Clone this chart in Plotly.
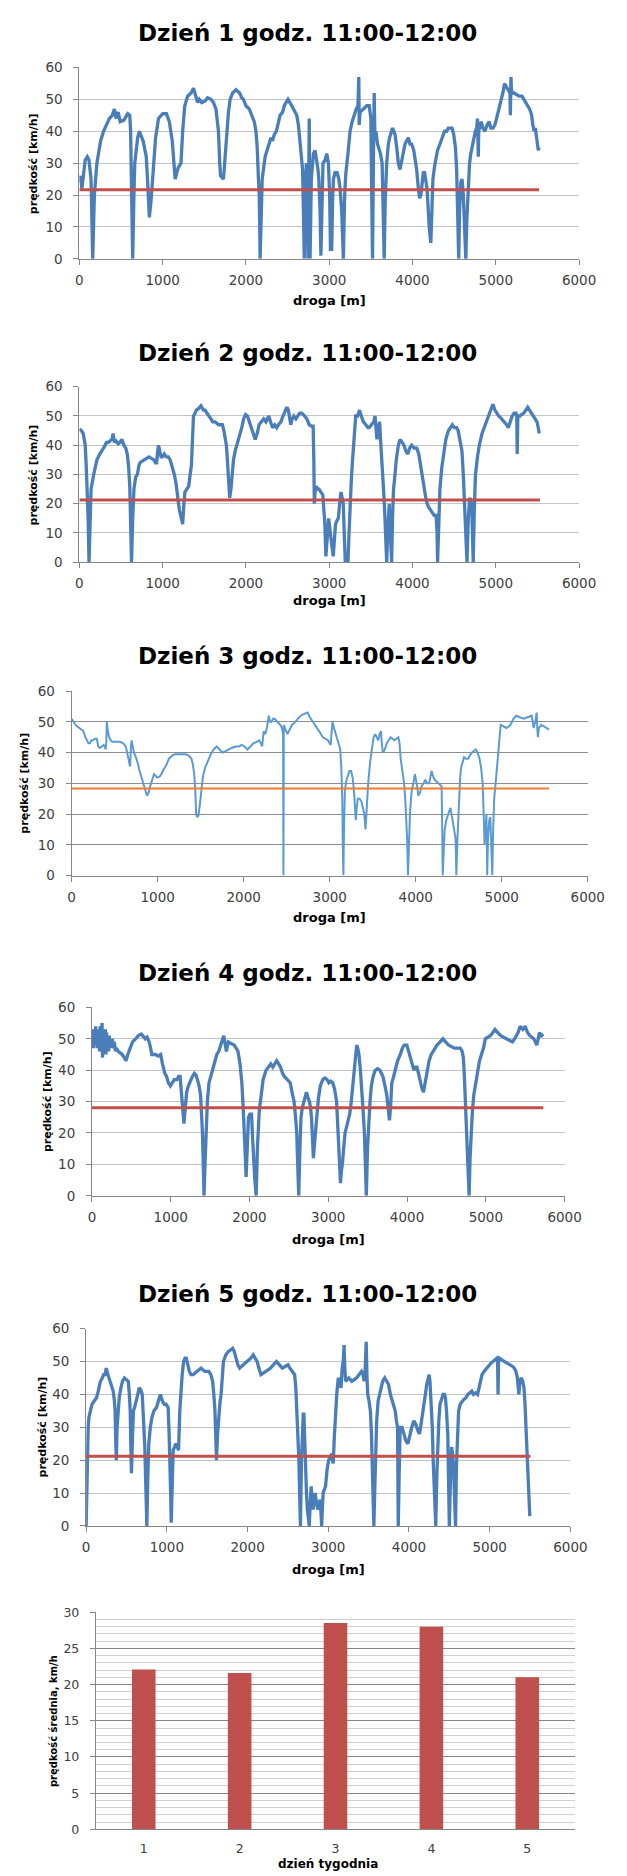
import plotly.graph_objects as go

W, H = 627, 1876

# ---------------- data ----------------
day1_dist = [0,15,30,45,70,95,115,140,160,180,210,255,290,325,360,395,420,440,465,490,535,580,605,615,628,640,655,665,700,720,765,803,820,840,860,880,915,950,1000,1045,1080,1115,1135,1150,1185,1220,1240,1265,1300,1340,1370,1390,1420,1440,1470,1510,1540,1580,1610,1640,1655,1670,1685,1695,1730,1750,1765,1790,1810,1840,1880,1925,1950,1970,2000,2040,2070,2100,2120,2135,2150,2160,2170,2185,2195,2230,2275,2300,2320,2340,2365,2390,2410,2440,2460,2505,2530,2550,2580,2610,2630,2645,2665,2680,2690,2700,2712,2725,2735,2745,2752,2760,2765,2770,2785,2810,2830,2845,2865,2875,2890,2900,2912,2925,2950,2970,2990,3005,3015,3030,3040,3050,3070,3095,3115,3130,3150,3170,3185,3200,3225,3250,3275,3295,3310,3325,3345,3355,3360,3370,3410,3450,3480,3500,3510,3520,3530,3540,3548,3560,3580,3595,3615,3635,3650,3660,3672,3690,3710,3725,3760,3790,3810,3830,3850,3870,3885,3910,3930,3950,3970,3990,4015,4035,4050,4070,4085,4100,4115,4130,4145,4160,4175,4190,4200,4220,4232,4245,4265,4280,4300,4330,4360,4385,4410,4430,4455,4475,4495,4515,4530,4540,4555,4565,4580,4595,4610,4625,4640,4652,4665,4685,4700,4720,4740,4755,4770,4780,4785,4790,4795,4810,4825,4845,4870,4895,4920,4940,4965,4990,5010,5035,5060,5085,5105,5130,5150,5170,5175,5182,5190,5220,5250,5280,5315,5340,5365,5385,5405,5420,5430,5445,5460,5475,5490,5500,5510,5520]
day1_speed = [24,26,22,26,31,32,31,25,0,20,30,37,40,42,44,45,47,44,46,43,43.5,45.5,45,40,20,0,20,30,38,40,37,32,24,13,18,25,38,44,45.5,45.5,43,37,28,25,28.5,30,40,48,51,52,53.5,52,49,50,49,49.5,50.5,50,49,47,44,40,30,26,25,32,40,46,50,52,53,52,50.5,50,48,47,45,43,40,35,25,20,0,18,25,32,36,38,37,39,40,43,45,46,48,50,49,48,46.5,45,42,38,32,28,15,0,22,30,15,0,20,44,20,0,25,33,34,32,28,25,15,1,20,30,31,33,30,20,3,3,18,25,27,27,25,22,15,0,20,27,33,40,43,45,46,47,48,57,42,46,47,48,48,44,20,0,30,52,38,40,36,35,33,30,15,0,18,30,36,38,41,39,35,30,28,31,33,36,37,38,36,36,34,31,28,22,19,20,24,27,27,25,22,15,10,5,15,25,29,31,34,36,38,40,40,41,41,41,39,35,28,20,0,15,24,25,20,10,0,12,22,30,33,36,38,40,41,44,38,32,40,42,43,41,40,42,43,41,41,42,44,46,49,52,55,54,53,52,45,57,52,52,51.5,51,51,50,49,48,47,46,45,42,40,41,38,35,34,35]

day2_dist = [0,25,46,60,70,82,93,105,116,128,140,172,190,210,245,280,300,325,350,370,390,405,420,440,465,487,510,535,557,575,590,605,612,626,640,655,675,696,715,728,750,775,800,835,865,895,915,928,940,950,965,980,998,1020,1045,1067,1090,1114,1140,1160,1175,1183,1200,1216,1240,1255,1267,1290,1313,1330,1345,1355,1370,1390,1405,1430,1460,1490,1510,1531,1560,1580,1600,1630,1650,1670,1700,1717,1735,1750,1765,1777,1790,1805,1820,1833,1850,1870,1900,1926,1950,1972,1995,2018,2040,2065,2090,2111,2135,2158,2185,2213,2240,2260,2274,2295,2320,2345,2370,2390,2420,2445,2470,2492,2510,2525,2538,2555,2575,2600,2620,2645,2670,2690,2705,2730,2760,2790,2807,2815,2821,2830,2845,2860,2877,2900,2923,2935,2946,2960,2975,2993,3005,3016,3030,3048,3060,3076,3090,3109,3125,3141,3155,3169,3180,3193,3210,3225,3238,3248,3265,3280,3300,3318,3340,3364,3385,3410,3440,3465,3480,3510,3535,3550,3565,3573,3590,3605,3620,3633,3650,3665,3678,3690,3705,3721,3735,3749,3760,3772,3790,3805,3830,3851,3875,3897,3920,3944,3965,3990,4020,4051,4075,4097,4120,4144,4165,4190,4210,4236,4260,4283,4295,4301,4315,4329,4350,4376,4400,4431,4455,4478,4500,4530,4548,4570,4594,4610,4626,4640,4654,4670,4687,4700,4710,4720,4729,4742,4756,4780,4802,4835,4872,4905,4942,4965,4990,5010,5035,5070,5104,5130,5150,5175,5197,5220,5243,5252,5257,5265,5290,5310,5336,5360,5383,5405,5429,5450,5475,5495,5510,5522]
day2_speed = [45.5,45,44,42,40,33,25,15,0,15,25,30,33,35,37,38.5,39.5,41,41,41.5,42,44,41,41.5,40.5,41,42,40,39,37,33,26,20,0,15,25,29,30,33,34,34.5,35,35.5,36,35.5,35,34,34,38,40,38,36,36,37,36,36,35,33,30,27,23,21,18,16,13,20,24,25,26,30,33,40,50,51,52,52.5,53.5,52,52,51,50,49,48,48,47.5,47,47,47,45,43,40,35,28,22,25,30,35,38,41,43,46,49,50.5,50,48,46,44,42,44,47,48,49,48,49.5,50,48,46,47,46,47,48,50,52,53,52,48,47,49,50,49,50,51,51,50.5,50,49,47,46.5,46.5,35,20,24,26,25,25,24,23,18,14,2,10,15,12,10,6,2,8,13,14,15,20,24,22,20,10,0,0,0,10,20,28,35,45,50,50,52,50,48,47,46,46,47,48,50,45,42,46,48,40,35,26,18,8,0,12,20,10,0,15,25,30,35,40,42,41,40,38,37,39,40,39,39,37,33,29,25,21,19,18,17,16,16,10,0,15,25,32,38,42,45,46,47,46,46,45,42,38,30,20,10,0,15,22,21,20,10,0,18,30,36,40,44,47,49,52,54,52,51,50,49,48,47,46,48,50,51,51,50,37,50,50,50.5,51,52,53,52,51,50,49,48,46,44]

day3_dist = [0,20,45,67,90,115,135,160,180,195,211,230,247,270,292,310,328,350,373,385,395,402,409,420,436,455,472,520,562,600,629,645,661,672,679,690,697,710,724,740,764,790,809,830,854,876,895,912,935,957,975,989,1010,1034,1060,1080,1101,1130,1168,1200,1236,1280,1326,1360,1393,1410,1425,1437,1447,1460,1474,1490,1505,1525,1550,1580,1618,1650,1685,1720,1753,1790,1820,1860,1910,1945,1977,2010,2045,2080,2112,2150,2180,2200,2215,2225,2233,2250,2270,2280,2292,2305,2323,2340,2360,2390,2427,2445,2458,2462,2466,2480,2508,2535,2562,2600,2629,2660,2697,2742,2770,2809,2840,2876,2900,2921,2950,2980,3000,3011,3020,3033,3050,3069,3090,3110,3123,3135,3146,3152,3159,3166,3177,3195,3213,3230,3249,3265,3281,3292,3303,3314,3326,3348,3370,3386,3402,3416,3430,3447,3470,3492,3510,3528,3545,3564,3580,3596,3605,3618,3640,3663,3685,3708,3730,3753,3775,3798,3812,3825,3845,3865,3878,3888,3900,3910,3920,3933,3945,3955,3972,3991,4010,4031,4050,4067,4090,4112,4135,4157,4170,4184,4205,4225,4247,4269,4285,4301,4308,4314,4325,4337,4355,4373,4390,4404,4415,4427,4445,4463,4468,4472,4485,4503,4515,4526,4545,4562,4585,4607,4630,4652,4675,4697,4720,4742,4760,4778,4790,4800,4810,4822,4827,4831,4840,4855,4867,4878,4890,4900,4912,4935,4957,4972,4988,5020,5056,5080,5101,5135,5168,5210,5258,5300,5348,5360,5370,5390,5406,5413,5420,5432,5460,5490,5528,5550]
day3_speed = [51,50,49,48.5,48,47.5,47,45,44,43,43,44,44,44.5,44.5,42,41.5,42,42.5,42,41,43,50,47,45,44,43.5,43.5,43.5,43,42,40,38,36,35.5,42,44,42,40,39,37,34,32,30,28,26,27,29,31,33,32.5,32,32,32.5,34,35,36,38,39,39.5,39.5,39.5,39.5,39,38,36,33,28,20,19,19.5,23,28,32,35,37,39.5,41,42,41,40,40.5,41,41.5,42,42,42.5,42,41,42,43,43.5,44,43,42,45,47,46,48,50,52,50,50,51,51,50,49,48,46,0,49,48,46,47.5,49,50,51,52,52.5,53,51.5,50,48.5,47,46,45,44.5,44,43,42.5,46,50,48,46,44,42,41,35,25,10,0,15,28,31,33,34,34,32,28,23,18,22,25,25,24,22,20,15,22,30,37,42,45,46,45,44,46,47,43,40,41,43,44,45,44.5,44,44.5,45,43,38,34,30,25,20,12,0,10,20,25,28,30,33,30,26,27,29,30,31,30,30,32,34,32,31,30.5,30,29.5,29,15,0,8,15,18,20,21,22,20,19,16,12,5,0,12,25,31,35,37,38.5,38,38,39,40,40.5,41,40,38,35,30,20,10,15,20,10,0,12,18,19,10,0,15,25,32,38,44,49,48.5,48,48.5,49,51,52,51.5,51,51.5,52,50,48,50,53,48,45,48,49,48.5,48,47.5]

day4_dist = [0,8,15,22,30,39,47,55,62,70,78,88,96,104,112,120,128,134,140,146,152,160,170,178,186,194,205,212,220,228,235,245,260,272,285,298,310,334,360,383,410,432,455,481,515,554,590,628,655,677,700,726,745,760,785,809,840,873,895,908,925,947,970,996,1020,1045,1080,1100,1119,1130,1143,1155,1168,1185,1202,1225,1251,1275,1300,1320,1339,1360,1379,1392,1403,1413,1423,1435,1447,1465,1486,1510,1536,1560,1585,1610,1634,1655,1673,1690,1707,1720,1732,1765,1805,1830,1854,1880,1903,1920,1938,1948,1957,1970,1987,2005,2026,2040,2051,2068,2085,2100,2124,2145,2173,2210,2247,2270,2296,2320,2345,2370,2394,2420,2443,2480,2517,2540,2566,2585,2600,2612,2625,2640,2654,2670,2688,2705,2723,2745,2762,2775,2787,2800,2811,2830,2850,2875,2899,2930,2958,2985,3007,3030,3057,3080,3106,3120,3135,3145,3155,3167,3179,3195,3213,3233,3253,3272,3292,3310,3326,3345,3361,3375,3390,3408,3424,3440,3459,3470,3483,3498,3513,3530,3547,3570,3596,3625,3655,3675,3694,3720,3743,3760,3777,3790,3807,3830,3851,3880,3915,3940,3964,3998,4020,4047,4065,4086,4105,4126,4150,4175,4192,4209,4230,4258,4280,4307,4340,4381,4420,4455,4490,4528,4565,4602,4640,4675,4700,4715,4728,4739,4752,4764,4775,4788,4800,4813,4830,4847,4870,4896,4920,4945,4970,4994,5025,5058,5090,5117,5150,5190,5225,5264,5300,5338,5365,5387,5410,5436,5470,5500,5530,5559,5585,5608,5630,5647,5665,5681,5705,5730]
day4_speed = [51,48,53,47,52,48,54,49,53,47,52,53,46,54,48,52,55,44,50,46,53,47,53,45,52,48,50,46,51,47,50,48,50,47,49,46,47,46,45.5,45,44,43,45,47,49,50,51,51.5,50.5,50,50.5,49,47,45,45,45,44.5,45,42,40,39,38,36,35,36,37,37,38,38,35,30,26,23,28,33,35,37,38,39,38.5,37,35,32,27,20,10,0,10,20,30,36,38,41,43,45,46,48,50,51,48.5,46,48,49,48.5,48,47,46,42,36,28,20,12,6,15,25,26,26,18,12,5,0,15,27,32,37,40,41,42,41,42,43,42,41,39,38,37,36,33,30,25,20,10,0,15,25,28,30,32,33,31,30,28,25,18,12,18,25,31,35,37,37.5,37,36,36.5,36,34,30,23,15,8,4,8,10,15,20,22,24,26,30,35,40,45,48,47,45,40,35,28,20,10,0,15,25,30,35,38,40,40.5,40,39,38,35,32,28,24,28,36,38,40,43,45,47,48,48,46,44,42,40,41,41,38,36,34,33,36,40,43,45,46.5,48,49,50,49,48,47.5,47,47,47,46,44,38,30,20,10,5,0,12,20,27,32,36,40,43,45,47,50,50.5,51,52,53,52,51,50.5,50,49.5,49,50,51,52,54,53,54,52,51,50.5,50,49,48,50,52,51,51.5]

day5_dist = [0,8,14,25,34,50,72,100,129,150,177,200,216,235,249,270,297,320,335,350,359,367,374,383,393,410,431,450,474,500,522,535,546,553,561,572,585,600,623,640,657,675,695,708,719,727,733,742,752,764,776,795,815,840,872,895,920,945,968,990,1016,1028,1040,1047,1054,1065,1078,1095,1112,1130,1145,1160,1174,1190,1208,1225,1241,1260,1279,1300,1327,1350,1375,1400,1423,1445,1471,1495,1519,1545,1567,1582,1596,1605,1615,1628,1644,1660,1672,1685,1701,1730,1759,1790,1816,1835,1855,1880,1902,1925,1950,1980,2008,2040,2070,2095,2118,2140,2166,2195,2228,2258,2286,2320,2358,2395,2430,2465,2501,2525,2549,2570,2583,2598,2612,2625,2636,2645,2655,2668,2679,2690,2698,2708,2717,2730,2741,2752,2765,2778,2789,2800,2813,2825,2837,2855,2870,2885,2899,2910,2918,2928,2937,2950,2966,2985,3005,3025,3043,3052,3062,3075,3091,3105,3124,3140,3158,3165,3172,3185,3196,3205,3215,3235,3254,3273,3292,3320,3350,3380,3412,3430,3445,3458,3470,3480,3489,3505,3522,3535,3546,3556,3565,3577,3589,3600,3618,3635,3652,3675,3700,3720,3747,3770,3795,3812,3829,3845,3858,3863,3867,3878,3891,3915,3939,3960,3987,4010,4035,4060,4083,4110,4131,4150,4164,4185,4203,4220,4236,4250,4260,4275,4289,4300,4313,4322,4332,4345,4356,4370,4385,4405,4423,4440,4452,4465,4481,4490,4500,4515,4529,4540,4553,4563,4577,4588,4600,4615,4634,4660,4680,4706,4730,4755,4778,4800,4825,4850,4865,4883,4905,4931,4960,4993,5015,5041,5065,5089,5098,5104,5110,5123,5150,5185,5220,5257,5285,5305,5325,5343,5352,5362,5375,5391,5410,5425,5438,5449,5460,5473,5485,5497]
day5_speed = [0,12,25,30,33,35,37,38,39,41,44,45,46,46,48,46,44,42,41,38,35,25,20,30,35,39,42,44,45,44.5,44,40,35,25,16,25,35,36,38,40,42,41.5,40,35,30,24,18,8,0,15,25,30,33,35,36,38,40,38,37,37,36,28,20,10,1,15,23,24,25,24,23,35,42,46,50,51,51,49,47,46,46,46.5,47,47.5,48,47.5,47,47,47,46,44,40,35,28,20,28,35,38,40,45,50,52,53,53.5,54,53,51,49,48,48.5,49,49.5,50,51,52,51,50,48,46,46.5,47,47.5,48,49,50,49,48,48.5,49,48,47,46.5,46,42,35,28,20,10,0,20,30,34,34,25,15,10,5,3,0,8,12,8,5,8,10,7,5,6,8,4,0,6,10,11,12,17,20,21,22,20,19,27,35,40,45,44,42,46,48,50,55,48,44,44.5,45,44.5,44,44.5,45,46,47,46,44,48,56,45,40,38,35,28,20,10,0,12,25,32,38,40,42,44,45,44,43,40,38,36,35,32,30,15,0,15,30,30,28,26,25,28,30,32,31,29,28,31,33,37,40,43,45,46,44,38,30,20,10,5,0,15,25,32,37,39,40,40,39,35,28,15,0,15,24,22,18,10,0,18,30,35,37,38,38.5,39,40,40.5,41,40,40.5,40,42,44,46,47,48,49,49.5,50,50.5,51,50,40,50,51,50.5,50,49.5,49,48.5,48,47,45,42,40,44,45,44,42,37,30,22,18,10,3]

avg_speed_line = [21.7, 21.3, 28.3, 28.0, 21.2]
avg_line_end = [5520, 5530, 5550, 5730, 5505]

days = ["1", "2", "3", "4", "5"]
mean_speed = [22.1, 21.6, 28.5, 28.0, 21.0]

titles = ["Dzień 1 godz. 11:00-12:00", "Dzień 2 godz. 11:00-12:00",
          "Dzień 3 godz. 11:00-12:00", "Dzień 4 godz. 11:00-12:00",
          "Dzień 5 godz. 11:00-12:00"]
x_title = "droga [m]"
y_title = "prędkość [km/h]"
bar_x_title = "dzień tygodnia"
bar_y_title = "prędkość średnia, km/h"

series = [(day1_dist, day1_speed), (day2_dist, day2_speed), (day3_dist, day3_speed),
          (day4_dist, day4_speed), (day5_dist, day5_speed)]

# ---------------- layout geometry (pixels) ----------------
# (left, right, top, bottom) of each plot area
boxes = [(78, 595, 60, 253), (78, 595, 382, 559), (70, 604, 689, 875),
         (91, 580, 1008, 1198), (85, 586, 1332, 1531)]
bar_box = (95, 591, 1618, 1837)
title_y = [25, 348, 654, 973, 1297]
xtitle_y = [295, 598, 917, 1242, 1575]
ytitle_x = [30, 30, 21, 45, 39.5]

FONT = "DejaVu Sans"
TICKC = "#404040"

def px_x(v):
    return v / W

def px_y(v):
    return 1 - v / H

fig = go.Figure()
layout = dict(width=W, height=H, margin=dict(l=0, r=0, t=0, b=0),
              paper_bgcolor="white", plot_bgcolor="white", showlegend=False)
annotations = []

for i, ((dx, dy), (l, r, t, b)) in enumerate(zip(series, boxes)):
    n = i + 1
    xa = "x" if n == 1 else f"x{n}"
    ya = "y" if n == 1 else f"y{n}"
    style3 = (n == 3)
    line_col = "#5B9BD5" if style3 else "#4A7EBB"
    avg_col = "#ED7D31" if style3 else "#C0504D"
    grid_col = "#8C8C8C" if style3 else "#C4C4C4"
    lw = 2.0 if style3 else 3.3
    aw = 2.0 if style3 else 3.0
    fig.add_trace(go.Scatter(x=dx, y=dy, mode="lines", xaxis=xa, yaxis=ya,
                             line=dict(color=line_col, width=lw)))
    fig.add_trace(go.Scatter(x=[0, avg_line_end[i]], y=[avg_speed_line[i]] * 2,
                             mode="lines", xaxis=xa, yaxis=ya,
                             line=dict(color=avg_col, width=aw)))
    layout["xaxis" if n == 1 else f"xaxis{n}"] = dict(
        domain=[px_x(l), px_x(r)], anchor=ya, range=[0, 6000], dtick=1000,
        showgrid=False, zeroline=False, showline=True, linecolor="#868686",
        ticks="outside", ticklen=5, tickcolor="#868686",
        tickfont=dict(family=FONT, size=13.5, color=TICKC), ticklabelstandoff=4)
    layout["yaxis" if n == 1 else f"yaxis{n}"] = dict(
        domain=[px_y(b), px_y(t)], anchor=xa, range=[0, 60], dtick=10,
        showgrid=True, gridcolor=grid_col, gridwidth=1, zeroline=False,
        showline=True, linecolor="#868686", ticks="outside", ticklen=5,
        tickcolor="#868686",
        tickfont=dict(family=FONT, size=13.5, color=TICKC), ticklabelstandoff=8)
    annotations.append(dict(text=titles[i], x=px_x(314), y=px_y(title_y[i]),
                            xref="paper", yref="paper", showarrow=False,
                            xanchor="center", yanchor="middle",
                            font=dict(family=FONT, size=23, color="black", weight="bold")))
    annotations.append(dict(text=x_title, x=px_x((l + r) / 2), y=px_y(xtitle_y[i]),
                            xref="paper", yref="paper", showarrow=False,
                            xanchor="center", yanchor="middle",
                            font=dict(family=FONT, size=13, color="black", weight="bold")))
    annotations.append(dict(text=y_title, x=px_x(ytitle_x[i]), y=px_y((t + b) / 2),
                            xref="paper", yref="paper", showarrow=False, textangle=-90,
                            xanchor="center", yanchor="middle",
                            font=dict(family=FONT, size=11, color="black", weight="bold")))

# bar chart
l, r, t, b = bar_box
fig.add_trace(go.Bar(x=days, y=mean_speed, xaxis="x6", yaxis="y6",
                     marker=dict(color="#C0504D", line=dict(width=0))))
layout["bargap"] = 0.754
layout["xaxis6"] = dict(domain=[px_x(l), px_x(r)], anchor="y6", type="category",
                        showgrid=False, zeroline=False, showline=True,
                        linecolor="#868686", ticks="",
                        tickfont=dict(family=FONT, size=12.5, color=TICKC),
                        ticklabelstandoff=8)
layout["yaxis6"] = dict(domain=[px_y(b), px_y(t)], anchor="x6", range=[0, 30], dtick=5,
                        showgrid=True, gridcolor="#868686", gridwidth=1, zeroline=False,
                        showline=True, linecolor="#868686", ticks="outside", ticklen=5,
                        tickcolor="#868686",
                        minor=dict(dtick=1, showgrid=True, gridcolor="#D0D0D0", gridwidth=1),
                        tickfont=dict(family=FONT, size=12.5, color=TICKC),
                        ticklabelstandoff=8)
annotations.append(dict(text=bar_x_title, x=px_x(335), y=px_y(1872),
                        xref="paper", yref="paper", showarrow=False,
                        xanchor="center", yanchor="middle",
                        font=dict(family=FONT, size=12, color="black", weight="bold")))
annotations.append(dict(text=bar_y_title, x=px_x(51), y=px_y((t + b) / 2),
                        xref="paper", yref="paper", showarrow=False, textangle=-90,
                        xanchor="center", yanchor="middle",
                        font=dict(family=FONT, size=10, color="black", weight="bold")))

layout["annotations"] = annotations
fig.update_layout(**layout)
fig.write_html("out.html", config={"displayModeBar": False},
               post_script="document.body.style.margin='0';document.body.style.overflow='hidden';")
